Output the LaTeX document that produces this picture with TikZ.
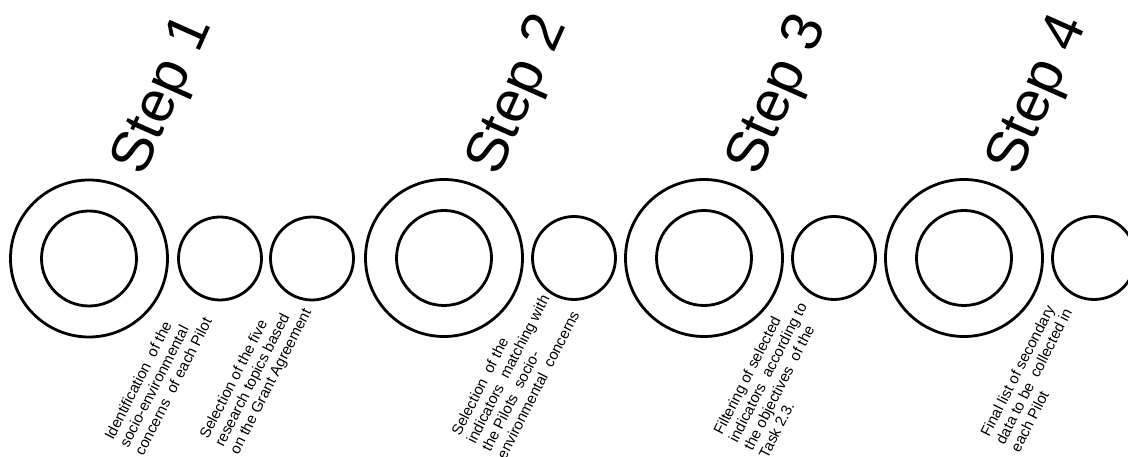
\documentclass[tikz,border=0pt]{standalone}
\usepackage{fontspec}
\setmainfont{Liberation Sans}
\begin{document}
\begin{tikzpicture}[x=1pt,y=1pt,
  ring/.style={circle,draw=black,line width=2.8pt,inner sep=0pt,outer sep=0pt,minimum size=#1},
  steplabel/.style={anchor=base west,rotate=66,inner sep=0pt,font=\fontsize{58}{64}\selectfont},
  desc/.style={anchor=north west,rotate=63,inner sep=0pt,align=left,font=\fontsize{15}{17}\selectfont}]
\useasboundingbox (0,0) rectangle (1128,-457);
% Step 1
\node[ring=157] (o1) at (89,-258.5) {};
\node[ring=95] (i1) at (89,-258.5) {};
\node[ring=83] (s1a) at (220,-258.5) {};
\node[ring=83] (s1b) at (312,-258.5) {};
% Step 2
\node[ring=157] (o2) at (444,-258) {};
\node[ring=95] (i2) at (444,-258) {};
\node[ring=83] (s2) at (574,-258) {};
% Step 3
\node[ring=157] (o3) at (704,-258) {};
\node[ring=95] (i3) at (704,-258) {};
\node[ring=83] (s3) at (834,-258) {};
% Step 4
\node[ring=157] (o4) at (964,-258) {};
\node[ring=95] (i4) at (964,-258) {};
\node[ring=83] (s4) at (1094,-258) {};
% step labels
\node[steplabel] (l1) at (143,-178) {Step 1};
\node[steplabel] (l2) at (498,-178) {Step 2};
\node[steplabel] (l3) at (758,-178) {Step 3};
\node[steplabel] (l4) at (1018,-178) {Step 4};
% descriptions
\node[desc] (d1) at (103.2,-436) {Identification\ \ of the\\socio-environmental\\concerns\ \ of each Pilot};
\node[desc] (d2) at (198.2,-435) {Selection of the five\\research topics based\\on the Grant Agreement};
\node[desc] (d3) at (450.2,-432) {Selection\ \ of the\\indicators\ \ matching with\\the Pilots\ \ socio-\\environmental\ \ concerns};
\node[desc] (d4) at (712.2,-431) {Filtering of selected\\indicators\ \ according to\\the objectives\ \ of the\\Task 2.3.};
\node[desc] (d5) at (979.2,-433) {Final list of secondary\\data to be\ \ collected in\\each Pilot};
\end{tikzpicture}
\end{document}
